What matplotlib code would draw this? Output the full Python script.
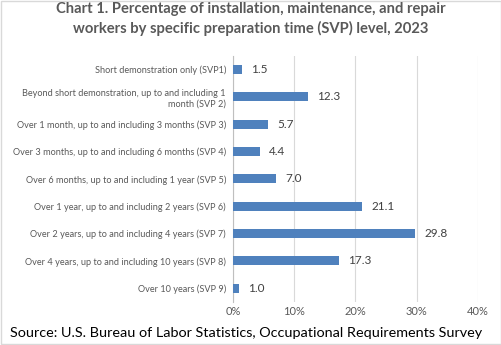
import matplotlib.pyplot as plt

plt.rcParams['font.family'] = ['Lato', 'DejaVu Sans']

levels = ['Short demonstration only (SVP1)',
          'Beyond short demonstration, up to and including 1\nmonth (SVP 2)',
          'Over 1 month, up to and including 3 months (SVP 3)',
          'Over 3 months, up to and including 6 months (SVP 4)',
          'Over 6 months, up to and including 1 year (SVP 5)',
          'Over 1 year, up to and including 2 years (SVP 6)',
          'Over 2 years, up to and including 4 years (SVP 7)',
          'Over 4 years, up to and including 10 years (SVP 8)',
          'Over 10 years (SVP 9)']
pct = [1.5, 12.3, 5.7, 4.4, 7.0, 21.1, 29.8, 17.3, 1.0]
xticks = [0, 10, 20, 30, 40]
xticklabels = ['0%', '10%', '20%', '30%', '40%']

grey = '#595959'
fig = plt.figure(figsize=(5.02, 3.45), dpi=100)
ax = fig.add_axes([0.464, 0.125, 0.488, 0.713])

y = list(range(len(levels)))
ax.barh(y, pct, height=0.33, color='#4F81BD', zorder=3)
for yi, v in zip(y, pct):
    ax.text(v + 1.5, yi, f'{v:.1f}', va='center', ha='left', fontsize=8.5, color='#404040')

ax.set_ylim(len(levels) - 0.5, -0.5)
ax.set_xlim(0, 40)
ax.set_yticks(y)
ax.set_yticklabels(levels, fontsize=6.6, color=grey, ha='right')
ax.set_xticks(xticks)
ax.set_xticklabels(xticklabels, fontsize=8, color=grey)
ax.tick_params(axis='y', length=0, pad=5)
ax.tick_params(axis='x', length=0, pad=3)
ax.grid(axis='x', color='#d9d9d9', linewidth=0.8, zorder=0)
for s in ['top', 'right', 'bottom']:
    ax.spines[s].set_visible(False)
ax.spines['left'].set_color('#bfbfbf')

fig.text(0.5, 0.945, 'Chart 1. Percentage of installation, maintenance, and repair\nworkers by specific preparation time (SVP) level, 2023',
         ha='center', va='center', fontsize=10.6, fontweight='bold', color=grey, linespacing=1.4)
fig.text(0.02, 0.035, 'Source: U.S. Bureau of Labor Statistics, Occupational Requirements Survey',
         ha='left', va='center', fontsize=10.4, color='black')

fig.patches.append(plt.Rectangle((0.002, 0.003), 0.996, 0.994, transform=fig.transFigure,
                                 fill=False, edgecolor='#d9d9d9', linewidth=1))
fig.savefig('out.png', dpi=100)
